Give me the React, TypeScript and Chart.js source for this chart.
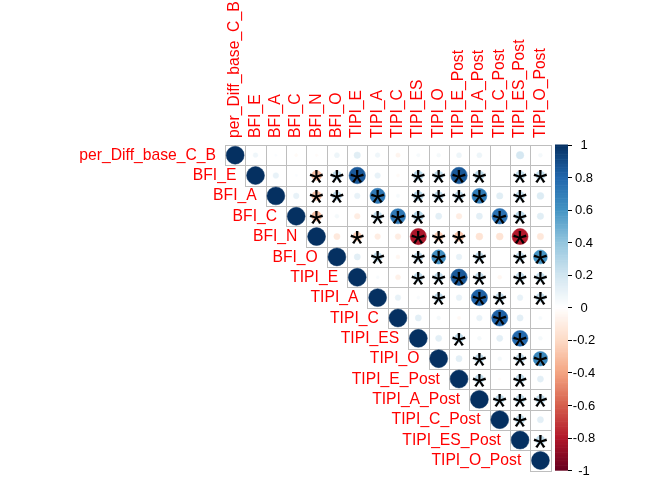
import React, { useEffect, useRef } from "react";
import { Chart, registerables } from "chart.js";

Chart.register(...registerables);

const variables = [
  "per_Diff_base_C_B", "BFI_E", "BFI_A", "BFI_C", "BFI_N", "BFI_O",
  "TIPI_E", "TIPI_A", "TIPI_C", "TIPI_ES", "TIPI_O",
  "TIPI_E_Post", "TIPI_A_Post", "TIPI_C_Post", "TIPI_ES_Post", "TIPI_O_Post",
];

// Upper triangle of the correlation matrix: row i lists columns i..15
const corrUpper: number[][] = [
  [1, 0.07, 0.02, -0.03, -0.02, 0.08, 0.13, 0.07, -0.06, 0.04, 0.05, 0.08, 0.08, 0.01, 0.18, 0.05],
  [1, 0.1, 0.02, -0.3, 0.25, 0.85, 0.1, -0.03, 0.28, 0.25, 0.85, 0.28, 0.0, 0.25, 0.25],
  [1, 0.1, -0.28, 0.25, 0.1, 0.72, 0.04, 0.28, 0.25, 0.25, 0.7, 0.13, 0.25, 0.15],
  [1, -0.3, 0.05, -0.1, 0.25, 0.72, 0.3, 0.12, -0.1, 0.12, 0.75, 0.28, 0.13],
  [1, -0.12, -0.25, -0.1, -0.1, -0.82, -0.25, -0.28, -0.15, -0.15, -0.8, -0.13],
  [1, 0.12, 0.25, -0.05, 0.25, 0.62, 0.1, 0.25, 0.0, 0.25, 0.6],
  [1, 0.03, -0.08, 0.25, 0.25, 0.85, 0.25, -0.05, 0.25, 0.25],
  [1, 0.1, 0.03, 0.25, 0.1, 0.82, 0.25, 0.1, 0.25],
  [1, 0.12, 0.05, -0.04, 0.1, 0.82, 0.12, 0.04],
  [1, 0.12, 0.25, 0.05, 0.12, 0.78, 0.05],
  [1, 0.12, 0.25, 0.05, 0.25, 0.65],
  [1, 0.25, -0.02, 0.25, 0.12],
  [1, 0.25, 0.25, 0.25],
  [1, 0.25, 0.12],
  [1, 0.25],
  [1],
];

// Significance marks (1 = "*"), same shape as corrUpper
const sigUpper: number[][] = [
  [0, 0, 0, 0, 0, 0, 0, 0, 0, 0, 0, 0, 0, 0, 0, 0],
  [0, 0, 0, 1, 1, 1, 0, 0, 1, 1, 1, 1, 0, 1, 1],
  [0, 0, 1, 1, 0, 1, 0, 1, 1, 1, 1, 0, 1, 0],
  [0, 1, 0, 0, 1, 1, 1, 0, 0, 0, 1, 1, 0],
  [0, 0, 1, 0, 0, 1, 1, 1, 0, 0, 1, 0],
  [0, 0, 1, 0, 1, 1, 0, 1, 0, 1, 1],
  [0, 0, 0, 1, 1, 1, 1, 0, 1, 1],
  [0, 0, 0, 1, 0, 1, 1, 0, 1],
  [0, 0, 0, 0, 0, 1, 0, 0],
  [0, 0, 1, 0, 0, 1, 0],
  [0, 0, 1, 0, 1, 1],
  [0, 1, 0, 1, 0],
  [0, 1, 1, 1],
  [0, 1, 0],
  [0, 1],
  [0],
];

const legendTicks = [1, 0.8, 0.6, 0.4, 0.2, 0, -0.2, -0.4, -0.6, -0.8, -1];
const legendLabels = ["1", "0.8", "0.6", "0.4", "0.2", "0", "-0.2", "-0.4", "-0.6", "-0.8", "-1"];

const paletteStops = [
  "#67001F", "#B2182B", "#D6604D", "#F4A582", "#FDDBC7", "#FFFFFF",
  "#D1E5F0", "#92C5DE", "#4393C3", "#2166AC", "#053061",
];

function hexToRgb(h: string) {
  return [parseInt(h.slice(1, 3), 16), parseInt(h.slice(3, 5), 16), parseInt(h.slice(5, 7), 16)];
}
const paletteRgb = paletteStops.map(hexToRgb);

function colorFor(v: number): string {
  const t = Math.max(0, Math.min(1, (v + 1) / 2)) * (paletteRgb.length - 1);
  const i = Math.min(paletteRgb.length - 2, Math.floor(t));
  const f = t - i;
  const a = paletteRgb[i], b = paletteRgb[i + 1];
  const c = a.map((x, k) => Math.round(x + (b[k] - x) * f));
  return `rgb(${c[0]},${c[1]},${c[2]})`;
}

const FONT = '"Liberation Sans", Arial, Helvetica, sans-serif';
const LABEL_SIZE = 15.7;

type Pt = { x: number; y: number; v: number; s: number };

function buildPoints(): Pt[] {
  const pts: Pt[] = [];
  corrUpper.forEach((row, i) => {
    row.forEach((v, k) => {
      pts.push({ x: i + k, y: i, v, s: sigUpper[i][k] });
    });
  });
  return pts;
}

const crisp = (p: number) => Math.round(p) + 0.5;

const corrPlugin = {
  id: "corrDecor",
  beforeDatasetsDraw(chart: any) {
    const { ctx, scales } = chart;
    const xs = scales.x, ys = scales.y;
    ctx.save();
    ctx.strokeStyle = "#BEBEBE";
    ctx.lineWidth = 1;
    for (let i = 0; i < variables.length; i++) {
      for (let j = i; j < variables.length; j++) {
        const x0 = crisp(xs.getPixelForValue(j - 0.5));
        const x1 = crisp(xs.getPixelForValue(j + 0.5));
        const y0 = crisp(ys.getPixelForValue(i - 0.5));
        const y1 = crisp(ys.getPixelForValue(i + 0.5));
        ctx.strokeRect(x0, y0, x1 - x0, y1 - y0);
      }
    }
    ctx.restore();
  },
  afterDatasetsDraw(chart: any) {
    const { ctx, scales } = chart;
    const xs = scales.x, ys = scales.y;
    ctx.save();
    // significance stars
    ctx.font = `100px ${FONT}`;
    const m = ctx.measureText("*");
    const w100 = m.actualBoundingBoxLeft + m.actualBoundingBoxRight;
    const fs = (14 / w100) * 100;
    ctx.font = `${fs}px ${FONT}`;
    const mm = ctx.measureText("*");
    const inkCx = (mm.actualBoundingBoxRight - mm.actualBoundingBoxLeft) / 2;
    const inkCy = (mm.actualBoundingBoxDescent - mm.actualBoundingBoxAscent) / 2;
    ctx.fillStyle = "#000000";
    ctx.textAlign = "left";
    ctx.textBaseline = "alphabetic";
    corrUpper.forEach((row, i) => {
      row.forEach((_v, k) => {
        if (!sigUpper[i][k]) return;
        const cx = xs.getPixelForValue(i + k);
        const cy = ys.getPixelForValue(i) + 1.5;
        ctx.fillText("*", cx - inkCx, cy - inkCy);
      });
    });
    ctx.restore();
  },
  afterDraw(chart: any) {
    const { ctx, scales } = chart;
    const xs = scales.x, ys = scales.y;
    ctx.save();
    ctx.fillStyle = "#FF0000";
    ctx.font = `${LABEL_SIZE}px ${FONT}`;
    const gridTop = ys.getPixelForValue(-0.5);
    // row labels
    ctx.textAlign = "right";
    ctx.textBaseline = "alphabetic";
    variables.forEach((name, i) => {
      const left = xs.getPixelForValue(i - 0.5);
      const cy = ys.getPixelForValue(i);
      ctx.fillText(name, left - 9, cy + 0.358 * LABEL_SIZE - 1);
    });
    // column labels
    variables.forEach((name, j) => {
      const cx = xs.getPixelForValue(j);
      ctx.save();
      ctx.translate(cx - 1.5 + 0.358 * LABEL_SIZE, gridTop - 7);
      ctx.rotate(-Math.PI / 2);
      ctx.textAlign = "left";
      ctx.fillText(name, 0, 0);
      ctx.restore();
    });
    // colour legend
    const barL = 555, barR = 568;
    const barT = gridTop - 0.5;
    const barB = ys.getPixelForValue(15.5) - 0.5;
    const n = 200;
    for (let k = 0; k < n; k++) {
      const v = 1 - (2 * (k + 0.5)) / n;
      const y0 = barT + ((barB - barT) * k) / n;
      const y1 = barT + ((barB - barT) * (k + 1)) / n;
      ctx.fillStyle = colorFor(v);
      ctx.fillRect(barL, y0, barR - barL, y1 - y0 + 0.6);
    }
    ctx.strokeStyle = "#000000";
    ctx.lineWidth = 1;
    ctx.fillStyle = "#000000";
    ctx.font = `13px ${FONT}`;
    ctx.textAlign = "center";
    ctx.textBaseline = "middle";
    legendTicks.forEach((t, k) => {
      const y = barT + ((1 - t) / 2) * (barB - barT);
      ctx.beginPath();
      ctx.moveTo(barR, crisp(y));
      ctx.lineTo(barR + 4, crisp(y));
      ctx.stroke();
      ctx.fillText(legendLabels[k], 584, y + 1);
    });
    ctx.restore();
  },
};

export default function App() {
  const ref = useRef<HTMLCanvasElement | null>(null);
  useEffect(() => {
    if (!ref.current) return;
    const pts = buildPoints();
    const chart = new Chart(ref.current, {
      type: "scatter",
      data: {
        datasets: [
          {
            data: pts as any,
            pointRadius: (c: any) => {
              const p = c.raw as Pt;
              if (!p) return 0;
              const sx = c.chart.scales.x;
              const cell = sx.getPixelForValue(1) - sx.getPixelForValue(0);
              return 0.44 * Math.sqrt(Math.abs(p.v)) * cell;
            },
            pointHoverRadius: (c: any) => {
              const p = c.raw as Pt;
              if (!p) return 0;
              const sx = c.chart.scales.x;
              const cell = sx.getPixelForValue(1) - sx.getPixelForValue(0);
              return 0.44 * Math.sqrt(Math.abs(p.v)) * cell;
            },
            pointBackgroundColor: (c: any) => (c.raw ? colorFor((c.raw as Pt).v) : "#fff"),
            pointBorderColor: (c: any) => (c.raw ? colorFor((c.raw as Pt).v) : "#fff"),
            pointBorderWidth: 0.5,
          } as any,
        ],
      },
      options: {
        responsive: false,
        animation: false,
        events: [],
        layout: { padding: { left: 225, top: 145, right: 121.4, bottom: 9.4 } },
        scales: {
          x: { type: "linear", min: -0.5, max: 15.5, display: false },
          y: { type: "linear", min: -0.5, max: 15.5, reverse: true, display: false },
        },
        plugins: { legend: { display: false }, tooltip: { enabled: false } },
      },
      plugins: [corrPlugin],
    });
    return () => chart.destroy();
  }, []);
  return (
    <div style={{ position: "fixed", left: 0, top: 0, width: 672, height: 480, background: "#fff" }}>
      <canvas ref={ref} width={672} height={480} style={{ display: "block" }} />
    </div>
  );
}
